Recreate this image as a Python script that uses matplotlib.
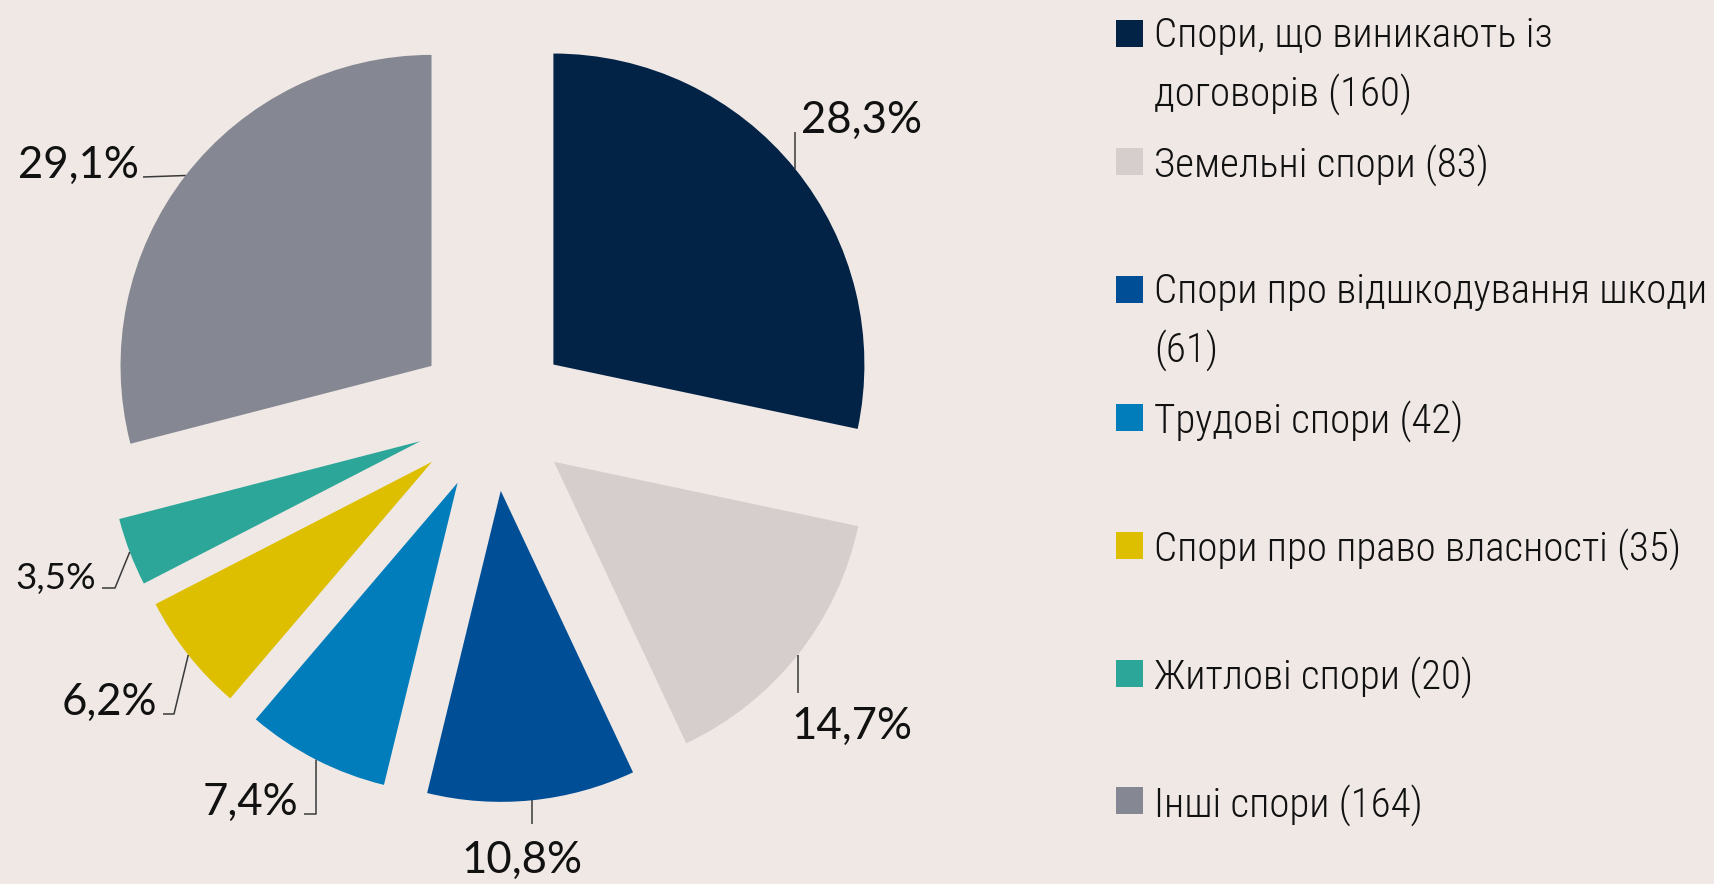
import textwrap
import matplotlib
matplotlib.use('Agg')
import matplotlib.pyplot as plt
from matplotlib.patches import Rectangle
import numpy as np

# data
categories = ["Спори, що виникають із договорів", "Земельні спори",
              "Спори про відшкодування шкоди", "Трудові спори",
              "Спори про право власності", "Житлові спори", "Інші спори"]
counts = [160, 83, 61, 42, 35, 20, 164]
pct_labels = ["28,3%", "14,7%", "10,8%", "7,4%", "6,2%", "3,5%", "29,1%"]
colors = ["#022246", "#D6CECC", "#004E96", "#007DBA", "#DDBF00", "#2CA699", "#858892"]

W, H = 1715, 884
BG = "#EFE8E5"

fig = plt.figure(figsize=(W / 100, H / 100), dpi=100, facecolor=BG)
ax = fig.add_axes([0, 0, 1, 1])
ax.set_facecolor(BG)

def Y(y):  # image row -> data y
    return H - y

radius = 311
wedges, _ = ax.pie(counts, colors=colors, startangle=90, counterclock=False,
                   explode=[0.25 * radius] * len(counts), radius=radius,
                   center=(493, Y(413.5)), wedgeprops=dict(linewidth=0))
ax.set_xlim(0, W)
ax.set_ylim(0, H)
ax.set_aspect('equal')
ax.axis('off')

# leader line layout: (elbow/end points in image coords, text xy, ha, va, size)
label_layout = [
    ([(None, 132)], (801, 133), 'left', 'baseline', 31.5),
    ([(None, 693)], (791, 706), 'left', 'top', 31.5),
    ([(None, 824)], (522, 840), 'center', 'top', 31.5),
    ([(316, 814), (304, 814)], (298, 815), 'right', 'baseline', 31.5),
    ([(174, 714), (163, 714)], (157, 715), 'right', 'baseline', 31.5),
    ([(115, 588), (102, 588)], (96, 589), 'right', 'baseline', 26.5),
    ([(143, 177)], (139, 178), 'right', 'baseline', 31.5),
]

for w, lab, (pts, txy, ha, va, fs) in zip(wedges, pct_labels, label_layout):
    ang = np.deg2rad((w.theta1 + w.theta2) / 2)
    ex, ey = w.center[0] + w.r * np.cos(ang), w.center[1] + w.r * np.sin(ang)
    xs, ys = [ex], [ey]
    for px, py in pts:
        xs.append(ex if px is None else px)
        ys.append(Y(py))
    ax.plot(xs, ys, color='#3a3a3a', lw=1.1, solid_capstyle='butt')
    ax.text(txy[0], Y(txy[1]), lab, ha=ha, va=va, family='Lato', size=fs, color='#111111')

# legend, drawn by hand so the rows keep an even step
leg_font = dict(family='Roboto Condensed', weight='light', size=29.5, color='#111111')
for i, (cat, n, c) in enumerate(zip(categories, counts, colors)):
    yc = 33 + i * 128
    ax.add_patch(Rectangle((1116, Y(yc) - 13.5), 27, 27, color=c, lw=0))
    for j, line in enumerate(textwrap.wrap(f"{cat} ({n})", width=30)):
        ax.text(1154, Y(yc - 1 + j * 57), line, ha='left', va='center_baseline', **leg_font)

fig.savefig("out.png", dpi=100, facecolor=BG)
